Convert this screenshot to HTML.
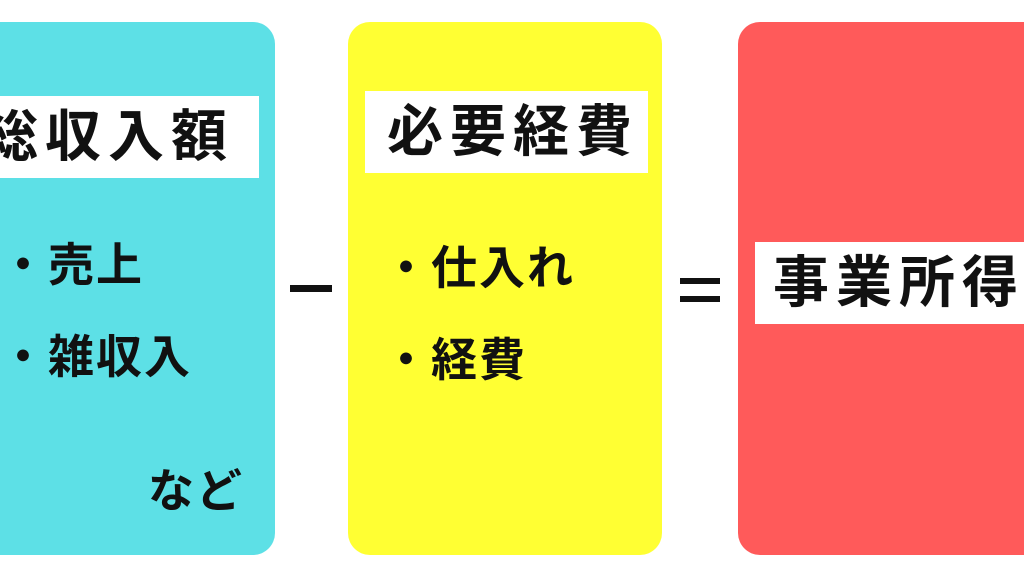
<!DOCTYPE html>
<html><head><meta charset="utf-8"><style>
body{margin:0;width:1024px;height:576px;background:#fff;position:relative;overflow:hidden;font-family:"Liberation Sans","Noto Sans CJK JP",sans-serif;font-weight:bold;color:#111}
.box{position:absolute;top:22px;height:533px;border-radius:22px}
.lab{position:absolute;background:#fff;font-size:56px;line-height:82px;white-space:nowrap;letter-spacing:7px}
.t{position:absolute;font-size:46px;white-space:nowrap;line-height:46px;letter-spacing:2px}
</style></head><body>
<div class="box" style="left:-30px;width:305px;background:#5de0e6"></div>
<div class="box" style="left:348px;width:314px;background:#ffff33"></div>
<div class="box" style="left:738px;width:320px;background:#ff5a5a"></div>
<div class="lab" style="left:0;top:96px;width:259px;"><span style="margin-left:-18px">総収入額</span></div>
<div class="lab" style="left:365px;top:91px;width:283px;"><span style="margin-left:22px">必要経費</span></div>
<div class="lab" style="left:755px;top:242px;width:280px;"><span style="margin-left:18px">事業所得</span></div>
<div class="t" style="left:0px;top:242px">・売上</div>
<div class="t" style="left:0px;top:334px">・雑収入</div>
<div class="t" style="left:148px;top:468px">など</div>
<div class="t" style="left:383px;top:245px">・仕入れ</div>
<div class="t" style="left:383px;top:337px">・経費</div>
<div style="position:absolute;left:290px;top:285px;width:42px;height:7px;background:#111"></div>
<div style="position:absolute;left:680px;top:278px;width:40px;height:6px;background:#111"></div>
<div style="position:absolute;left:680px;top:296px;width:40px;height:6px;background:#111"></div>
</body></html>
